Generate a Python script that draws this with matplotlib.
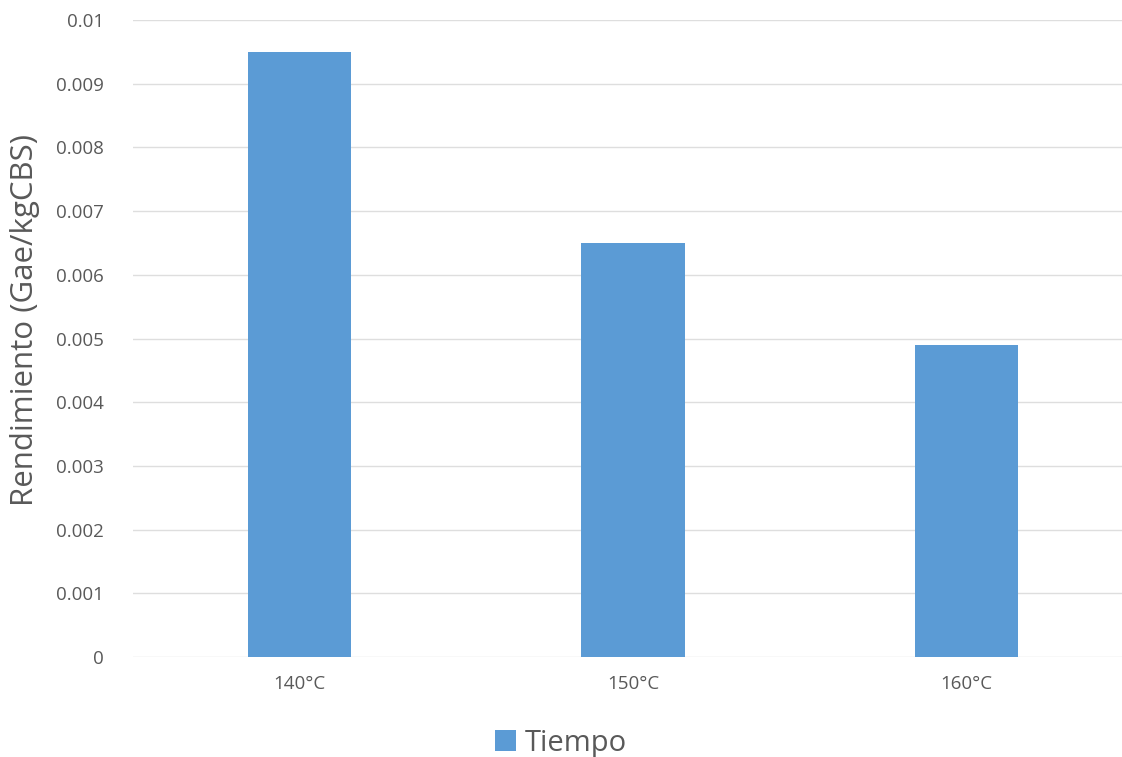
import matplotlib.pyplot as plt

categories = ["140°C", "150°C", "160°C"]
tiempo = [0.0095, 0.0065, 0.0049]
y_ticks = [0, 0.001, 0.002, 0.003, 0.004, 0.005, 0.006, 0.007, 0.008, 0.009, 0.01]
y_tick_labels = ["0", "0.001", "0.002", "0.003", "0.004", "0.005", "0.006",
                 "0.007", "0.008", "0.009", "0.01"]

plt.rcParams['font.family'] = ['Open Sans', 'DejaVu Sans']

W, H = 1122, 757
fig = plt.figure(figsize=(W / 100, H / 100), dpi=100)
left, right, bottom, top = 133, 1133, 657, 20
ax = fig.add_axes([left / W, 1 - bottom / H, (right - left) / W, (bottom - top) / H])

x = range(len(categories))
bars = ax.bar(x, tiempo, width=0.31, color="#5B9BD5", label="Tiempo", zorder=3)

ax.set_xlim(-0.5, len(categories) - 0.5)
ax.set_ylim(0, 0.01)
ax.set_yticks(y_ticks)
ax.set_yticklabels(y_tick_labels)
ax.set_xticks(list(x))
ax.set_xticklabels(categories)
ax.tick_params(axis='y', length=0, pad=21, labelsize=13.5, labelcolor="#595959")
ax.tick_params(axis='x', length=0, pad=13, labelsize=13.5, labelcolor="#595959")
ax.grid(axis='y', color="#DEDEDE", linewidth=1, zorder=0)
for s in ax.spines.values():
    s.set_visible(False)

fig.text(25 / W, 1 - 320 / H, "Rendimiento (Gae/kgCBS)", rotation=90,
         ha='center', va='center', fontsize=22.5, color="#595959")

fig.legend(handles=[bars], labels=["Tiempo"], loc='center',
           bbox_to_anchor=(561 / W, 1 - 743 / H), frameon=False, fontsize=21,
           handlelength=0.7, handleheight=0.7, handletextpad=0.3,
           labelcolor="#595959")

fig.savefig("out.png", dpi=100, facecolor="white")
